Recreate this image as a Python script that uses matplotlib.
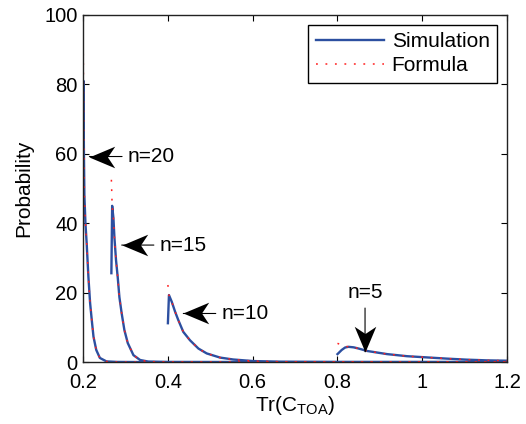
import matplotlib
matplotlib.use('Agg')
from matplotlib import pyplot as plt
from matplotlib.path import Path
from matplotlib.ticker import FormatStrFormatter

plt.rcParams['font.family'] = ['Liberation Sans', 'DejaVu Sans']

# simulation curves (n = 20, 15, 10, 5)
x_n20 = [0.2, 0.2008, 0.2018, 0.203, 0.2055, 0.2085, 0.2125, 0.2165, 0.2205, 0.2245, 0.231, 0.2395, 0.255, 0.28, 0.35, 0.5, 0.8, 1.2]
sim_n20 = [45, 81, 62, 48, 40, 34, 24.5, 17, 12, 7.3, 3.5, 1.2, 0.2, 0.05, 0, 0, 0, 0]
form_n20 = [97, 81, 62, 48, 40, 34, 24.5, 17, 12, 7.3, 3.5, 1.2, 0.2, 0.05, 0, 0, 0, 0]

x_n15 = [0.2667, 0.2685, 0.2715, 0.2738, 0.2776, 0.2816, 0.2856, 0.291, 0.2974, 0.3053, 0.3187, 0.3345, 0.354, 0.4, 0.6, 0.8, 1.2]
sim_n15 = [25.6, 45, 41.5, 36, 29.4, 24.5, 18.7, 14, 9.2, 5.5, 2, 0.6, 0.15, 0.03, 0, 0, 0]
form_n15 = [52.5, 45, 41.5, 36, 29.4, 24.5, 18.7, 14, 9.2, 5.5, 2, 0.6, 0.15, 0.03, 0, 0, 0]

x_n10 = [0.4, 0.4025, 0.409, 0.417, 0.4245, 0.4363, 0.452, 0.472, 0.4915, 0.523, 0.554, 0.601, 0.665, 0.8, 1.2]
sim_n10 = [11.2, 19.3, 17.4, 14.5, 12.1, 8.7, 6.3, 3.9, 2.5, 1.3, 0.75, 0.3, 0.1, 0.02, 0]
form_n10 = [22.2, 19.3, 17.4, 14.5, 12.1, 8.7, 6.3, 3.9, 2.5, 1.3, 0.75, 0.3, 0.1, 0.02, 0]

x_n5 = [0.8, 0.81, 0.818, 0.826, 0.838, 0.85, 0.87, 0.917, 0.964, 1.011, 1.058, 1.105, 1.152, 1.2]
sim_n5 = [2.3, 3.5, 4.2, 4.4, 4.25, 3.9, 3.2, 2.3, 1.7, 1.35, 1.0, 0.7, 0.5, 0.4]
form_n5 = [5.4, 4.9, 4.6, 4.4, 4.25, 3.9, 3.2, 2.3, 1.7, 1.35, 1.0, 0.7, 0.5, 0.4]

# annotation labels: text, arrow tip, text position
labels = ['n=20', 'n=15', 'n=10', 'n=5']
tips = [(0.2148, 59.2), (0.291, 33.7), (0.4363, 14), (0.865, 3.0)]
text_pos = [(0.305, 59.2), (0.38, 33.7), (0.526, 14), (0.865, 19.9)]

blue = '#2c4fa0'
red = '#ff2020'

fig = plt.figure(figsize=(5.26, 4.24), dpi=100)
ax = fig.add_axes([0.158, 0.146, 0.806, 0.819])

curves = [(x_n20, sim_n20, form_n20), (x_n15, sim_n15, form_n15),
          (x_n10, sim_n10, form_n10), (x_n5, sim_n5, form_n5)]
for xs, s, f in curves:
    ax.plot(xs, s, color=blue, lw=1.7, label='Simulation')
for xs, s, f in curves:
    ax.plot(xs, f, color=red, lw=1.1, linestyle=(0, (1.2, 5)), label='Formula')

ax.set_xlim(0.2, 1.2)
ax.set_ylim(0, 100)
ax.set_xticks([0.2, 0.4, 0.6, 0.8, 1.0, 1.2])
ax.set_yticks([0, 20, 40, 60, 80, 100])
ax.xaxis.set_major_formatter(FormatStrFormatter('%g'))
ax.tick_params(direction='in', top=True, right=True, length=4, labelsize=14.5)
ax.tick_params(axis='x', pad=8)
ax.tick_params(axis='y', pad=4)
for sp in ax.spines.values():
    sp.set_linewidth(1.0)
    sp.set_color('#222222')

ax.set_xlabel(r'Tr(C$_{\mathregular{TOA}}$)', fontsize=15, labelpad=1)
ax.set_ylabel('Probability', fontsize=15, labelpad=8)

# dart-shaped arrow heads (MATLAB style), tip at the origin
head_left = Path([(0, 0), (1, 0.42), (0.72, 0), (1, -0.42), (0, 0)],
                 [Path.MOVETO, Path.LINETO, Path.LINETO, Path.LINETO, Path.CLOSEPOLY])
head_down = Path([(0, 0), (0.42, 1), (0, 0.72), (-0.42, 1), (0, 0)],
                 [Path.MOVETO, Path.LINETO, Path.LINETO, Path.LINETO, Path.CLOSEPOLY])

for i, (lab, tip, tp) in enumerate(zip(labels, tips, text_pos)):
    ax.annotate(lab, xy=tip, xytext=tp, fontsize=15, va='center',
                ha='center' if i == 3 else 'left',
                arrowprops=dict(arrowstyle='-', color='black', lw=0.8,
                                shrinkA=2, shrinkB=0))
    ax.plot([tip[0]], [tip[1]], marker=head_down if i == 3 else head_left,
            markersize=37, color='black', markeredgewidth=0, linestyle='none')

handles, _ = ax.get_legend_handles_labels()
leg = ax.legend([handles[0], handles[4]], ['Simulation', 'Formula'], loc='upper right',
                bbox_to_anchor=(0.976, 0.971), fontsize=15, frameon=True, fancybox=False,
                edgecolor='black', framealpha=1, handlelength=3.3, borderpad=0.35,
                labelspacing=0.25, handletextpad=0.35, borderaxespad=0)
leg.get_frame().set_linewidth(1.0)

fig.savefig('out.png', dpi=100)
